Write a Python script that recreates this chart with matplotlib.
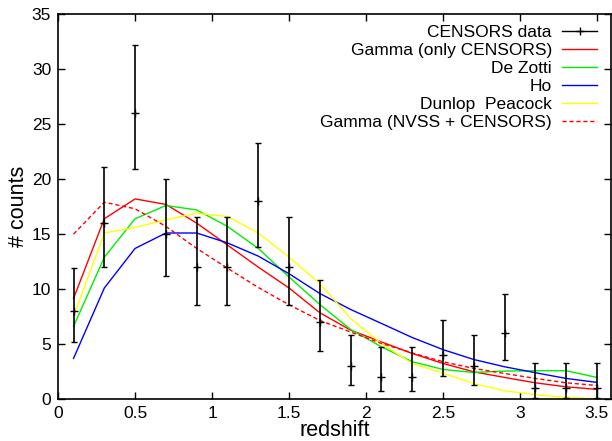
import matplotlib
matplotlib.use("Agg")
import matplotlib.pyplot as plt
from matplotlib.lines import Line2D

plt.rcParams['font.family'] = ['Liberation Sans', 'DejaVu Sans']

# redshift bins
z = [0.1, 0.3, 0.5, 0.7, 0.9, 1.1, 1.3, 1.5, 1.7, 1.9, 2.1, 2.3, 2.5, 2.7, 2.9, 3.1, 3.3, 3.5]

# CENSORS counts with asymmetric errors (lower, upper)
counts = [8, 16, 26, 15, 12, 12, 18, 12, 7, 3, 2, 2, 4, 3, 6, 1, 1, 1]
err_lo = [2.8, 4.0, 5.1, 3.8, 3.4, 3.4, 4.2, 3.4, 2.6, 1.7, 1.3, 1.3, 1.9, 1.7, 2.4, 0.9, 0.9, 0.9]
err_hi = [3.9, 5.1, 6.2, 5.0, 4.6, 4.6, 5.3, 4.6, 3.8, 2.8, 2.7, 2.7, 3.2, 2.8, 3.6, 2.3, 2.3, 2.3]

# model curves
gamma_censors = [9.15, 16.4, 18.2, 17.7, 16.0, 14.0, 12.0, 10.1, 7.85, 6.27, 5.2, 4.15, 3.24, 2.48, 1.97, 1.48, 1.12, 0.88]
de_zotti = [6.6, 12.9, 16.4, 17.6, 17.2, 15.7, 13.7, 11.1, 8.6, 6.33, 4.76, 3.4, 2.7, 2.42, 2.55, 2.58, 2.58, 1.97]
ho = [3.7, 10.1, 13.7, 15.1, 15.1, 14.2, 13.0, 11.4, 9.6, 8.15, 6.88, 5.6, 4.5, 3.6, 2.94, 2.4, 1.88, 1.52]
dunlop_peacock = [7.5, 15.1, 15.6, 16.3, 16.9, 16.6, 15.1, 12.9, 10.5, 7.33, 5.06, 3.24, 2.35, 1.42, 0.76, 0.4, 0.15, 0.03]
gamma_nvss = [15.0, 17.9, 17.3, 15.7, 13.7, 11.9, 10.15, 8.58, 7.15, 6.1, 5.06, 4.2, 3.4, 2.79, 2.33, 1.88, 1.48, 1.24]

fig = plt.figure(figsize=(6.12, 4.41), dpi=100)
ax = fig.add_axes([0.095, 0.095, 0.903, 0.873])

lw = 1.0
ax.plot(z, gamma_censors, color='#ff0000', lw=lw)
ax.plot(z, de_zotti, color='#00ee00', lw=lw)
ax.plot(z, ho, color='#0000ff', lw=lw)
ax.plot(z, dunlop_peacock, color='#ffff00', lw=lw)
ax.plot(z, gamma_nvss, color='#ff0000', lw=lw, ls=(0, (3, 2)))
ax.errorbar(z, counts, yerr=[err_lo, err_hi], fmt='+', color='black',
            ms=6, mew=1.0, elinewidth=1.2, capsize=2.5, capthick=1.0)

ax.set_xlim(0, 3.59)
ax.set_ylim(0, 35)
ax.set_xticks([0, 0.5, 1, 1.5, 2, 2.5, 3, 3.5])
ax.set_xticklabels(['0', '0.5', '1', '1.5', '2', '2.5', '3', '3.5'])
ax.set_yticks(range(0, 36, 5))
ax.tick_params(direction='in', length=5, width=1, top=True, right=True,
               labelsize=12.5, pad=5)
for s in ax.spines.values():
    s.set_linewidth(1.2)
ax.set_xlabel('redshift', fontsize=15.5, labelpad=-1)
ax.set_ylabel('# counts', fontsize=15.5, labelpad=2)

handles = [
    Line2D([], [], color='black', lw=1, marker='+', ms=6),
    Line2D([], [], color='#ff0000', lw=lw),
    Line2D([], [], color='#00ee00', lw=lw),
    Line2D([], [], color='#0000ff', lw=lw),
    Line2D([], [], color='#ffff00', lw=lw),
    Line2D([], [], color='#ff0000', lw=lw, ls=(0, (3, 2))),
]
labels = ['CENSORS data', 'Gamma (only CENSORS)', 'De Zotti', 'Ho',
          'Dunlop  Peacock', 'Gamma (NVSS + CENSORS)']
ax.legend(handles, labels, loc='upper right', bbox_to_anchor=(0.975, 0.972),
          frameon=False, markerfirst=False, fontsize=12.5, handlelength=2.0,
          handletextpad=0.6, labelspacing=0.16, borderaxespad=0, borderpad=0)

fig.savefig('out.png', dpi=100)
